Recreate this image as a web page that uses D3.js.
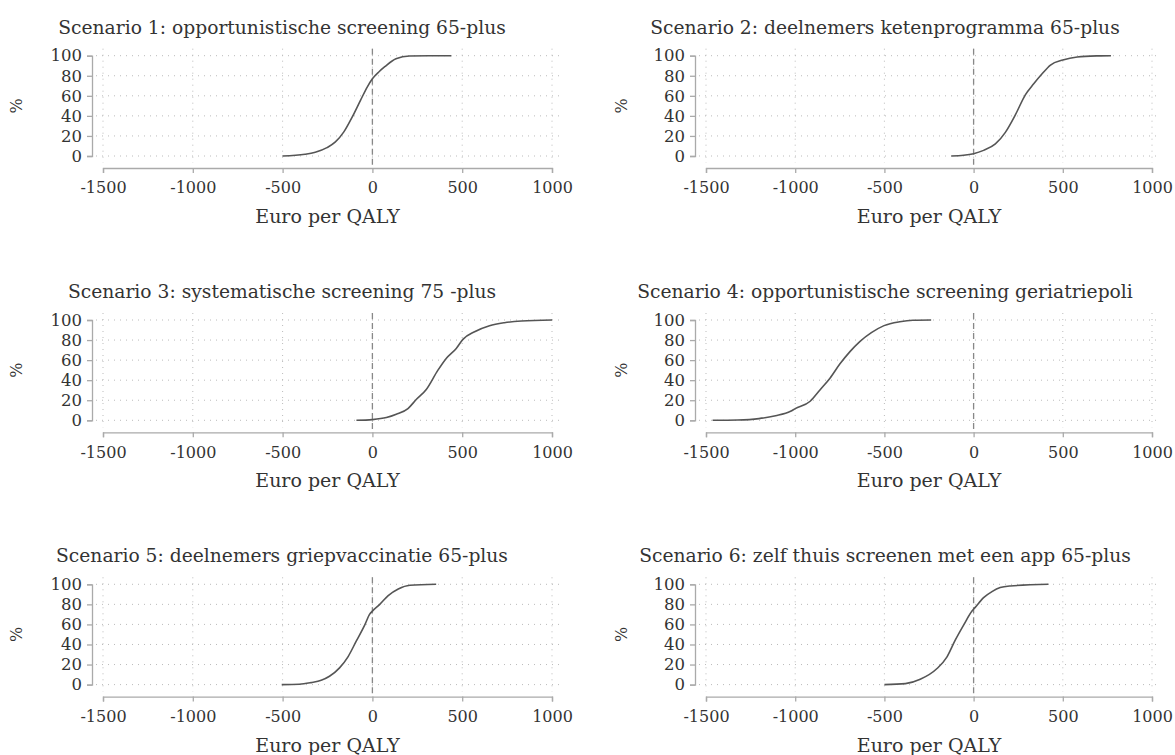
<!DOCTYPE html>
<html>
<head>
<meta charset="utf-8">
<script src="https://cdn.jsdelivr.net/npm/d3@7"></script>
<style>
  body { margin: 0; background: #fff; }
  text { font-family: "DejaVu Serif", serif; fill: #333; }
</style>
</head>
<body>
<script>
// scenario titles
const titles = [
    "Scenario 1: opportunistische screening 65-plus",
    "Scenario 2: deelnemers ketenprogramma 65-plus",
    "Scenario 3: systematische screening 75 -plus",
    "Scenario 4: opportunistische screening geriatriepoli",
    "Scenario 5: deelnemers griepvaccinatie 65-plus",
    "Scenario 6: zelf thuis screenen met een app 65-plus"
];

// axis ticks
const xTicks = [-1500, -1000, -500, 0, 500, 1000];
const yTicks = [0, 20, 40, 60, 80, 100];

// cumulative curves (euro per QALY, %)
const cost1 = [-500, -375, -318, -253, -206, -159, -112, -65, -28, 0, 37, 69, 131, 206, 440];
const pct1 = [0, 1.7, 3.7, 8.3, 14, 24, 39, 56, 69, 77, 84, 89, 97, 99.7, 100];

const cost2 = [-125, -56, 0, 56, 122, 178, 234, 290, 337, 384, 431, 500, 581, 693, 770];
const pct2 = [0, 0.7, 2.3, 5.6, 12, 23.6, 41, 61, 72, 82, 90.7, 95.7, 98.7, 99.8, 100];

const cost3 = [-89, 0, 78, 133, 198, 244, 300, 365, 411, 467, 504, 569, 652, 735, 830, 1000];
const pct3 = [0, 0.7, 2.7, 6, 11.7, 20.7, 30.7, 50, 61.7, 71.7, 80.7, 88.3, 94.3, 97.3, 99, 100];

const cost4 = [-1463, -1323, -1203, -1110, -1026, -1000, -916, -860, -805, -749, -693, -638, -573, -502, -414, -340, -238];
const pct4 = [0, 0.3, 1.7, 4.6, 9, 11.6, 19, 30.5, 42, 56.3, 68.5, 78.5, 87.4, 94.4, 98.3, 99.8, 100];

const cost5 = [-505, -407, -341, -285, -239, -183, -136, -90, -43, -15, 0, 41, 88, 144, 209, 355];
const pct5 = [0, 0.3, 2, 4.3, 8.3, 16.7, 27.7, 43.3, 59.3, 70.3, 73.3, 80, 88.7, 95.3, 99, 100];

const cost6 = [-500, -382, -299, -205, -149, -103, -56, -9, 9, 56, 103, 149, 205, 420];
const pct6 = [0, 1, 5.3, 16, 27.7, 44.3, 59.3, 73.3, 77, 86.7, 92.7, 96.7, 98.3, 100];

const costs = [cost1, cost2, cost3, cost4, cost5, cost6];
const pcts = [pct1, pct2, pct3, pct4, pct5, pct6];

function main() {
    let width = 1175;
    let height = 755;

    let svg = d3.select("body").append("svg")
        .attr("width", width)
        .attr("height", height);

    // column x ranges and row tops (y of 100%)
    let colRange = [[103, 552], [706, 1152]];
    let colCenter = [282, 885];
    let rowTop = [55.7, 320, 584.3];
    let plotH = 100.3;
    let pad = 7;

    let fmt = d => d < 0 ? "-" + Math.abs(d) : String(d);

    titles.forEach(function(title, i) {
        let col = i % 2;
        let row = Math.floor(i / 2);

        let x = d3.scaleLinear().domain([-1500, 1000]).range(colRange[col]);
        let y = d3.scaleLinear().domain([0, 100]).range([rowTop[row] + plotH, rowTop[row]]);

        let g = svg.append("g");
        let x0 = x.range()[0], x1 = x.range()[1];
        let yTop = y(100), yBot = y(0);

        // dotted grid
        g.selectAll(".hgrid")
            .data(yTicks)
            .enter()
            .append("line")
            .attr("x1", x0 - pad)
            .attr("x2", x1 + pad)
            .attr("y1", d => y(d))
            .attr("y2", d => y(d))
            .attr("stroke", "#bbb")
            .attr("stroke-width", 1)
            .attr("stroke-dasharray", "1,5");

        g.selectAll(".vgrid")
            .data(xTicks)
            .enter()
            .append("line")
            .attr("x1", d => x(d))
            .attr("x2", d => x(d))
            .attr("y1", yTop - pad)
            .attr("y2", yBot + pad)
            .attr("stroke", "#bbb")
            .attr("stroke-width", 1)
            .attr("stroke-dasharray", "1,5");

        // zero line
        g.append("line")
            .attr("x1", x(0))
            .attr("x2", x(0))
            .attr("y1", yTop - pad)
            .attr("y2", yBot + 12)
            .attr("stroke", "#888")
            .attr("stroke-width", 1.3)
            .attr("stroke-dasharray", "6,4");

        // y axis
        let yAxis = g.append("g")
            .attr("transform", "translate(" + (x0 - 11) + ",0)")
            .call(d3.axisLeft(y).tickValues(yTicks).tickSize(5).tickPadding(5));
        yAxis.select(".domain").attr("stroke", "#aaa").attr("stroke-width", 1.3);
        yAxis.selectAll(".tick line").attr("stroke", "#aaa").attr("stroke-width", 1.3);
        yAxis.selectAll("text")
            .attr("font-size", "16.5px")
            .attr("font-family", "DejaVu Serif")
            .attr("fill", "#333");

        // x axis
        let xAxis = g.append("g")
            .attr("transform", "translate(0," + (yBot + 12) + ")")
            .call(d3.axisBottom(x).tickValues(xTicks).tickFormat(fmt).tickSize(5).tickPadding(9));
        xAxis.select(".domain").attr("stroke", "#aaa").attr("stroke-width", 1.3);
        xAxis.selectAll(".tick line").attr("stroke", "#aaa").attr("stroke-width", 1.3);
        xAxis.selectAll("text")
            .attr("font-size", "16px")
            .attr("font-family", "DejaVu Serif")
            .attr("fill", "#333");

        // curve
        let pts = costs[i].map((c, k) => [c, pcts[i][k]]);
        g.append("path")
            .datum(pts)
            .attr("d", d3.line().curve(d3.curveMonotoneX).x(d => x(d[0])).y(d => y(d[1])))
            .attr("fill", "none")
            .attr("stroke", "#555")
            .attr("stroke-width", 1.6);

        // titles
        g.append("text")
            .attr("x", colCenter[col])
            .attr("y", yTop - 22)
            .attr("text-anchor", "middle")
            .attr("font-size", "18.7px")
            .text(title);

        g.append("text")
            .attr("x", (x0 + x1) / 2)
            .attr("y", yBot + 67)
            .attr("text-anchor", "middle")
            .attr("font-size", "19px")
            .text("Euro per QALY");

        g.append("text")
            .attr("transform", "translate(" + (col === 0 ? 22 : 627) + "," + (yTop + plotH / 2) + ") rotate(-90)")
            .attr("text-anchor", "middle")
            .attr("font-size", "16px")
            .text("%");
    });
}

main();
</script>
</body>
</html>
